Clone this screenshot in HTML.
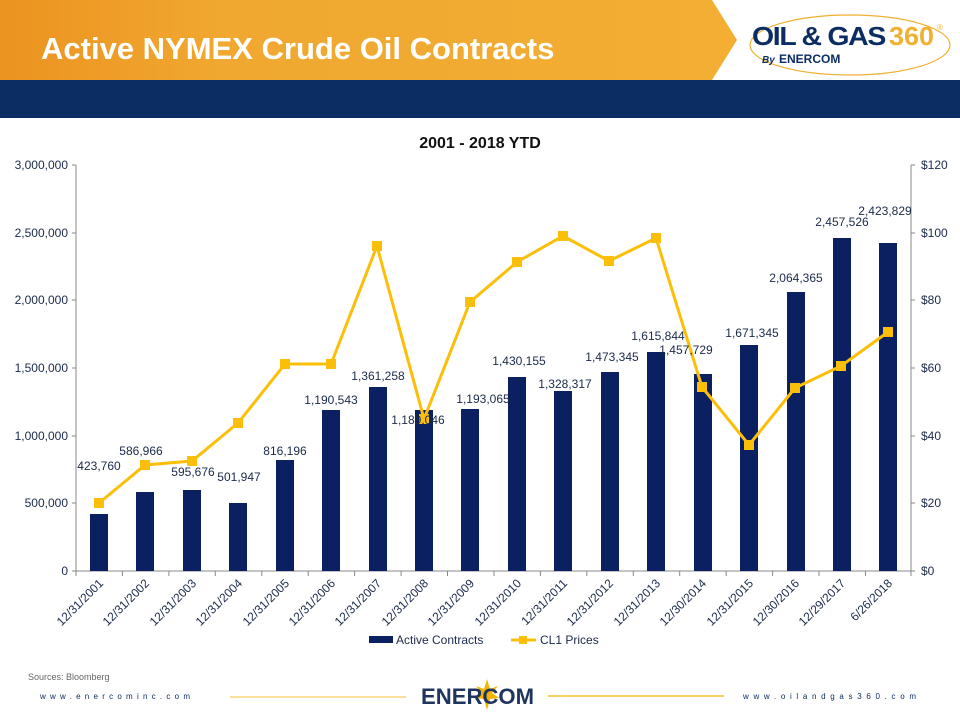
<!DOCTYPE html>
<html><head><meta charset="utf-8"><style>
body{margin:0;width:960px;height:720px;overflow:hidden;background:#fff;font-family:"Liberation Sans",sans-serif}
</style></head><body>
<svg width="960" height="720" viewBox="0 0 960 720" xmlns="http://www.w3.org/2000/svg" font-family="Liberation Sans, sans-serif">
<defs><linearGradient id="og" x1="0" x2="1" y1="0" y2="0"><stop offset="0" stop-color="#ec9320"/><stop offset="0.3" stop-color="#f0a830"/><stop offset="1" stop-color="#f3ae33"/></linearGradient></defs>
<polygon points="0,0 712,0 737,40 712,80 0,80" fill="url(#og)"/>
<rect x="0" y="80" width="960" height="38" fill="#0b2d63"/>
<text x="41" y="59" font-size="31" font-weight="bold" fill="#fff">Active NYMEX Crude Oil Contracts</text>
<ellipse cx="850" cy="45" rx="100" ry="30" fill="none" stroke="#f0b030" stroke-width="1.2"/>
<text x="752" y="45" font-size="26" font-weight="bold" fill="#0b2d63" letter-spacing="-1.2" textLength="133" lengthAdjust="spacingAndGlyphs">OIL &amp; GAS</text>
<text x="889" y="45" font-size="26" font-weight="bold" fill="#f0b030" textLength="45" lengthAdjust="spacingAndGlyphs">360</text>
<text x="937" y="30" font-size="8" fill="#f0b030">®</text>
<text x="762" y="63" font-size="10" font-weight="bold" font-style="italic" fill="#0b2d63">By</text>
<text x="779" y="63" font-size="12" font-weight="bold" fill="#0b2d63">ENERCOM</text>
<text x="480" y="148" font-size="16" font-weight="bold" fill="#111" text-anchor="middle">2001 - 2018 YTD</text>
<g stroke="#888" stroke-width="1" fill="none">
<line x1="76" y1="165" x2="76" y2="571"/><line x1="911" y1="165" x2="911" y2="571"/><line x1="76" y1="571" x2="911" y2="571"/>
<path d="M72 165H76M72 233H76M72 300H76M72 368H76M72 436H76M72 503H76M72 571H76"/>
<path d="M911 165H915M911 233H915M911 300H915M911 368H915M911 436H915M911 503H915M911 571H915"/>
<path d="M76 571V576M122.4 571V576M168.9 571V576M215.3 571V576M261.8 571V576M308.2 571V576M354.6 571V576M401.1 571V576M447.5 571V576M494 571V576M540.4 571V576M586.8 571V576M633.3 571V576M679.7 571V576M726.2 571V576M772.6 571V576M819 571V576M865.5 571V576M911 571V576"/>
</g>
<g font-size="12" fill="#1a2a4a" text-anchor="end">
<text x="68" y="169">3,000,000</text><text x="68" y="237">2,500,000</text><text x="68" y="304">2,000,000</text><text x="68" y="372">1,500,000</text><text x="68" y="440">1,000,000</text><text x="68" y="507">500,000</text><text x="68" y="575">0</text>
</g>
<g font-size="12" fill="#1a2a4a" text-anchor="start">
<text x="921" y="169">$120</text><text x="921" y="237">$100</text><text x="921" y="304">$80</text><text x="921" y="372">$60</text><text x="921" y="440">$40</text><text x="921" y="507">$20</text><text x="921" y="575">$0</text>
</g>
<g fill="#0b2060">
<rect x="90" y="514" width="18" height="57"/>
<rect x="136" y="492" width="18" height="79"/>
<rect x="183" y="490" width="18" height="81"/>
<rect x="229" y="503" width="18" height="68"/>
<rect x="276" y="460" width="18" height="111"/>
<rect x="322" y="410" width="18" height="161"/>
<rect x="369" y="387" width="18" height="184"/>
<rect x="415" y="410" width="18" height="161"/>
<rect x="461" y="409" width="18" height="162"/>
<rect x="508" y="377" width="18" height="194"/>
<rect x="554" y="391" width="18" height="180"/>
<rect x="601" y="372" width="18" height="199"/>
<rect x="647" y="352" width="18" height="219"/>
<rect x="694" y="374" width="18" height="197"/>
<rect x="740" y="345" width="18" height="226"/>
<rect x="787" y="292" width="18" height="279"/>
<rect x="833" y="238" width="18" height="333"/>
<rect x="879" y="243" width="18" height="328"/>
</g>
<polyline fill="none" stroke="#fbbf0a" stroke-width="3" points="99,503 145,465 192,461 238,423 285,364 331,364 377,246 424,419 470,302 517,262 563,236 609,261 656,238 702,387 749,445 795,388 841,366 888,332"/>
<g fill="#fbbf0a">
<rect x="94" y="498" width="10" height="10"/><rect x="140" y="460" width="10" height="10"/><rect x="187" y="456" width="10" height="10"/><rect x="233" y="418" width="10" height="10"/><rect x="280" y="359" width="10" height="10"/><rect x="326" y="359" width="10" height="10"/><rect x="372" y="241" width="10" height="10"/><rect x="419" y="414" width="10" height="10"/><rect x="465" y="297" width="10" height="10"/><rect x="512" y="257" width="10" height="10"/><rect x="558" y="231" width="10" height="10"/><rect x="604" y="256" width="10" height="10"/><rect x="651" y="233" width="10" height="10"/><rect x="697" y="382" width="10" height="10"/><rect x="744" y="440" width="10" height="10"/><rect x="790" y="383" width="10" height="10"/><rect x="836" y="361" width="10" height="10"/><rect x="883" y="327" width="10" height="10"/>
</g>
<g font-size="12" fill="#1a2a4a" text-anchor="middle">
<text x="99" y="470">423,760</text><text x="141" y="455">586,966</text><text x="193" y="476">595,676</text><text x="239" y="481">501,947</text><text x="285" y="455">816,196</text><text x="331" y="404">1,190,543</text><text x="378" y="380">1,361,258</text><text x="418" y="424">1,189,046</text><text x="483" y="403">1,193,065</text><text x="519" y="365">1,430,155</text><text x="565" y="388">1,328,317</text><text x="612" y="361">1,473,345</text><text x="658" y="340">1,615,844</text><text x="686" y="354">1,457,729</text><text x="752" y="337">1,671,345</text><text x="796" y="282">2,064,365</text><text x="842" y="226">2,457,526</text><text x="885" y="215">2,423,829</text>
</g>
<g font-size="12" fill="#1a2a4a" text-anchor="end">
<text transform="translate(104,584) rotate(-45)">12/31/2001</text>
<text transform="translate(150,584) rotate(-45)">12/31/2002</text>
<text transform="translate(197,584) rotate(-45)">12/31/2003</text>
<text transform="translate(243,584) rotate(-45)">12/31/2004</text>
<text transform="translate(290,584) rotate(-45)">12/31/2005</text>
<text transform="translate(336,584) rotate(-45)">12/31/2006</text>
<text transform="translate(382,584) rotate(-45)">12/31/2007</text>
<text transform="translate(429,584) rotate(-45)">12/31/2008</text>
<text transform="translate(475,584) rotate(-45)">12/31/2009</text>
<text transform="translate(522,584) rotate(-45)">12/31/2010</text>
<text transform="translate(568,584) rotate(-45)">12/31/2011</text>
<text transform="translate(614,584) rotate(-45)">12/31/2012</text>
<text transform="translate(661,584) rotate(-45)">12/31/2013</text>
<text transform="translate(707,584) rotate(-45)">12/30/2014</text>
<text transform="translate(754,584) rotate(-45)">12/31/2015</text>
<text transform="translate(800,584) rotate(-45)">12/30/2016</text>
<text transform="translate(846,584) rotate(-45)">12/29/2017</text>
<text transform="translate(893,584) rotate(-45)">6/26/2018</text>
</g>
<rect x="369" y="636" width="24" height="7" fill="#0b2060"/>
<text x="396" y="644" font-size="12" fill="#1a2a4a">Active Contracts</text>
<line x1="511" y1="640" x2="536" y2="640" stroke="#fbbf0a" stroke-width="3"/>
<rect x="519" y="636" width="8" height="8" fill="#fbbf0a"/>
<text x="540" y="644" font-size="12" fill="#1a2a4a">CL1 Prices</text>
<text x="28" y="680" font-size="9" fill="#666">Sources: Bloomberg</text>
<text x="40" y="699" font-size="8" fill="#0b2d63" textLength="150" lengthAdjust="spacing">www.enercominc.com</text>
<line x1="230" y1="697" x2="406" y2="697" stroke="#fbd77a" stroke-width="1.5"/>
<line x1="548" y1="696" x2="724" y2="696" stroke="#f3b300" stroke-width="1.2"/>
<polygon points="487,679 490,689 498,686 492,693 499,698 490,699 487,710 484,699 475,698 482,693 476,686 484,689" fill="#f3b300"/>
<text x="421" y="704" font-size="22" font-weight="bold" fill="#1f355e" textLength="113" lengthAdjust="spacingAndGlyphs">ENERCOM</text>
<text x="743" y="699" font-size="8" fill="#0b2d63" textLength="173" lengthAdjust="spacing">www.oilandgas360.com</text>
</svg>
</body></html>
